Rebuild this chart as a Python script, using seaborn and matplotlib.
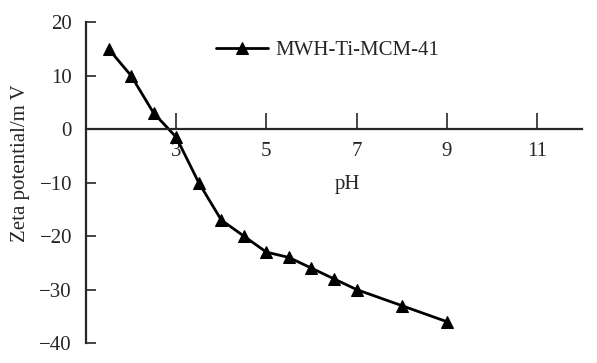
import matplotlib
matplotlib.use("Agg")
import matplotlib.pyplot as plt
import seaborn as sns
import pandas as pd

# data
ph = [1.5, 2.0, 2.5, 3.0, 3.5, 4.0, 4.5, 5.0, 5.5, 6.0, 6.5, 7.0, 8.0, 9.0]
zeta = [15, 10, 3, -1.5, -10, -17, -20, -23, -24, -26, -28, -30, -33, -36]
series_name = "MWH-Ti-MCM-41"
x_ticks = [3, 5, 7, 9, 11]
y_ticks = [-40, -30, -20, -10, 0, 10, 20]

sns.set_style("ticks")
plt.rcParams["font.family"] = ["Liberation Serif", "DejaVu Serif"]

df = pd.DataFrame({"pH": ph, "zeta": zeta, "sample": series_name})

fig = plt.figure(figsize=(5.97, 3.63), dpi=100)
ax = fig.add_axes([0.144, 0.055, 0.831, 0.884])

sns.lineplot(data=df, x="pH", y="zeta", hue="sample", palette=["black"],
             marker="^", markersize=9, markeredgecolor="black",
             linewidth=2, ax=ax)

ax.set_xlim(1, 12)
ax.set_ylim(-40, 20)
ax.set_xticks(x_ticks)
ax.set_yticks(y_ticks)
ax.set_yticklabels([str(v).replace("-", "\u2212") for v in y_ticks])

# x axis sits at zeta = 0
ax.spines["bottom"].set_position(("data", 0))
ax.spines["top"].set_visible(False)
ax.spines["right"].set_visible(False)
for s in ("bottom", "left"):
    ax.spines[s].set_linewidth(1.6)

ax.tick_params(axis="x", direction="in", length=11.5, width=1.2,
               pad=9, labelsize=15)
ax.tick_params(axis="y", direction="in", length=7.5, width=1.2,
               pad=10, labelsize=15)

ax.set_xlabel("pH", fontsize=15)
ax.xaxis.set_label_coords(0.528, 0.525)
ax.set_ylabel("Zeta potential/m V", fontsize=15)
ax.yaxis.set_label_coords(-0.112, 0.56)

ax.legend(frameon=False, loc="upper left", bbox_to_anchor=(0.225, 1.0),
          fontsize=15, handlelength=2.5, handletextpad=0.35)

fig.savefig("out.png", dpi=100)
plt.close(fig)
